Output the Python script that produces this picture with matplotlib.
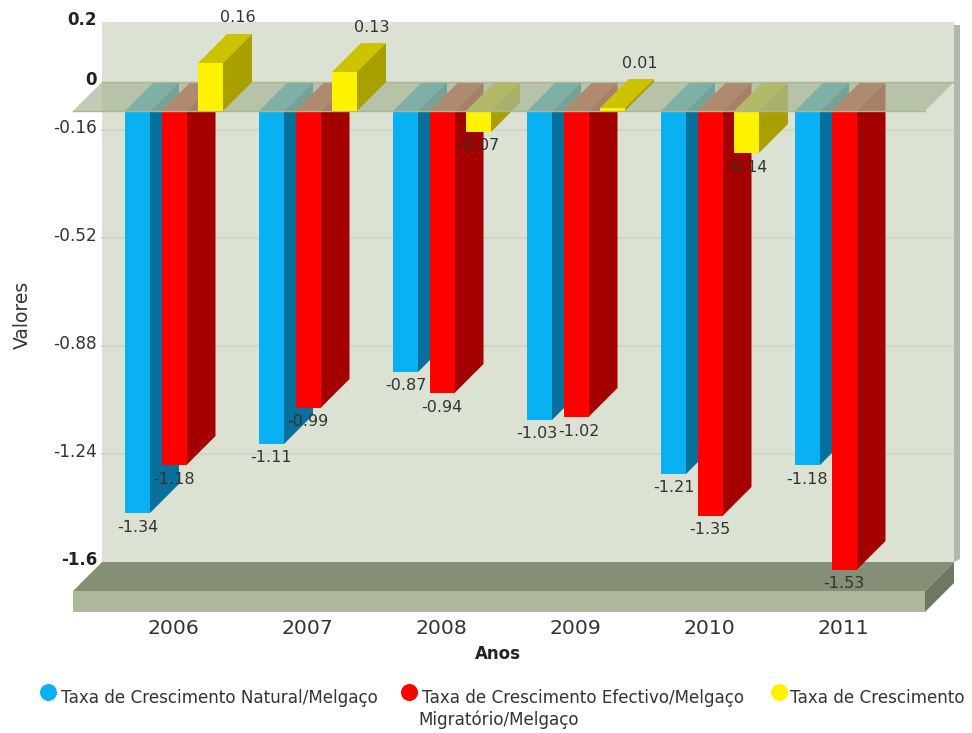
import matplotlib
matplotlib.use("Agg")
import matplotlib.pyplot as plt

years = ["2006", "2007", "2008", "2009", "2010", "2011"]
natural = [-1.34, -1.11, -0.87, -1.03, -1.21, -1.18]
efectivo = [-1.18, -0.99, -0.94, -1.02, -1.35, -1.53]
migratorio = [0.16, 0.13, -0.07, 0.01, -0.14, None]
y_ticks = [0.2, 0, -0.16, -0.52, -0.88, -1.24, -1.6]
y_labels = ["0.2", "0", "-0.16", "-0.52", "-0.88", "-1.24", "-1.6"]
bold_ticks = {"0.2", "0", "-1.6"}
legend_lines = [
    ("Taxa de Crescimento Natural/Melgaço", "#09b1f2"),
    ("Taxa de Crescimento Efectivo/Melgaço", "#ff0000"),
    ("Taxa de Crescimento", "#fff200"),
]

W, H = 972, 733
PXX, PXY = 134.0, 300.0     # pixels per category / per unit value
X0, Y0 = 174.0, 111.0       # pixel of first category / of value 0 (front plane)
DX, DY = 29 / PXX, 29 / PXY  # 3D depth in data units
BW = 25 / PXX
STEP = 36.5 / PXX
TXT = "#333333"

fig = plt.figure(figsize=(W / 100, H / 100), dpi=100)
ax = fig.add_axes([0, 0, 1, 1])
ax.set_xlim(-X0 / PXX, (W - X0) / PXX)
ax.set_ylim((Y0 - H) / PXY, Y0 / PXY)
ax.axis("off")


def xp(px):
    return (px - X0) / PXX


def vp(py):
    return (Y0 - py) / PXY


L, R = xp(73), xp(925)
YMIN = y_ticks[-1]
YMAX = y_ticks[0]

# back wall and its right shadow
ax.fill([L + DX, R + DX + 6 / PXX, R + DX + 6 / PXX, R + DX], [YMAX + DY, YMAX + DY - 0.01, YMIN + DY + 0.01, YMIN + DY],
        color="#b1b9ae", lw=0, zorder=1)
ax.fill([L + DX, R + DX, R + DX, L + DX], [YMAX + DY, YMAX + DY, YMIN + DY, YMIN + DY],
        color="#dce2d3", lw=0, zorder=2)
for t in y_ticks[2:-1]:
    ax.plot([L + DX, R + DX], [t + DY, t + DY], color="#cfd3ca", lw=1.2, zorder=3)

# floor
FH = 21 / PXY
ax.fill([L, R, R + DX, L + DX], [YMIN, YMIN, YMIN + DY, YMIN + DY], color="#858f75", lw=0, zorder=4)
ax.fill([L, R, R, L], [YMIN, YMIN, YMIN - FH, YMIN - FH], color="#adb89a", lw=0, zorder=4)
ax.fill([R, R + DX, R + DX, R], [YMIN, YMIN + DY, YMIN + DY - FH, YMIN - FH], color="#6f7860", lw=0, zorder=4)

series = [
    (natural, "#09b1f2", "#07719c", "#1ea0d2"),
    (efectivo, "#ff0000", "#a40000", "#c12117"),
    (migratorio, "#fff200", "#a8a000", "#ccc300"),
]
TOP_POS = "#cdc300"
# the two 2009 labels would collide at their bar centres
label_nudge = {(0, 3): -3 / PXX, (1, 3): 3 / PXX}

z = 10
labels = []
for s, (vals, front, side, top) in enumerate(series):
    for i, v in enumerate(vals):
        if v is None:
            continue
        x = i + (s - 1) * STEP - BW / 2
        if v < 0:
            ax.fill([x, x + BW, x + BW + DX, x + DX], [0, 0, DY, DY], color=top, lw=0, zorder=z)
            ax.fill([x + BW, x + BW + DX, x + BW + DX, x + BW], [0, DY, v + DY, v], color=side, lw=0, zorder=z + 1)
            ax.bar(x, v, BW, align="edge", color=front, lw=0, zorder=z + 2)
            labels.append((x + BW / 2 + label_nudge.get((s, i), 0), v - 14 / PXY, v))
        z += 3

# translucent zero plane
ax.fill([L, R, R + DX, L + DX], [0, 0, DY, DY], color="#a8b796", alpha=0.7, lw=0, zorder=200)
ax.plot([L + DX, R + DX], [DY, DY], color="#aab78f", lw=1, zorder=201)
ax.plot([L, R], [0, 0], color="#aab78f", lw=1, zorder=201)

z = 210
vals, front, side, top = series[2]
for i, v in enumerate(vals):
    if v is None or v < 0:
        continue
    x = i + STEP - BW / 2
    ax.fill([x, x + BW, x + BW + DX, x + DX], [v, v, v + DY, v + DY], color=TOP_POS, lw=0, zorder=z)
    ax.fill([x + BW, x + BW + DX, x + BW + DX, x + BW], [0, DY, v + DY, v], color=side, lw=0, zorder=z)
    ax.bar(x, v, BW, align="edge", color=front, lw=0, zorder=z + 1)
    labels.append((x + BW + 15 / PXX, v + DY + 16 / PXY, v))

for lx, ly, v in labels:
    ax.text(lx, ly, f"{v:.2f}", ha="center", va="center", fontsize=11.5, color=TXT, zorder=300)

for t, lab in zip(y_ticks, y_labels):
    bold = lab in bold_ticks
    ax.text(xp(97), t + DY + 2 / PXY, lab, ha="right", va="center", fontsize=12 if bold else 12.2,
            fontweight="bold" if bold else "normal", color="#222222" if bold else TXT, zorder=300)

for i, y in enumerate(years):
    ax.text(i - 1 / PXX, vp(628), y, ha="center", va="center", fontsize=14.7, color=TXT)

ax.text(xp(498), vp(654), "Anos", ha="center", va="center", fontsize=12, fontweight="bold", color="#222222")
ax.text(xp(22), vp(315), "Valores", ha="center", va="center", rotation=90, fontsize=13.5, color=TXT)

# legend
for (name, col), cx, tx in zip(legend_lines, (48, 409, 779), (61, 422, 790)):
    ax.scatter([xp(cx)], [vp(692)], s=150, color=col, lw=0, zorder=300)
    ax.text(xp(tx), vp(698), name, ha="left", va="center", fontsize=12.1, color=TXT)
ax.text(xp(418), vp(720), "Migratório/Melgaço", ha="left", va="center", fontsize=12.1, color=TXT)

fig.savefig("out.png", dpi=100)
